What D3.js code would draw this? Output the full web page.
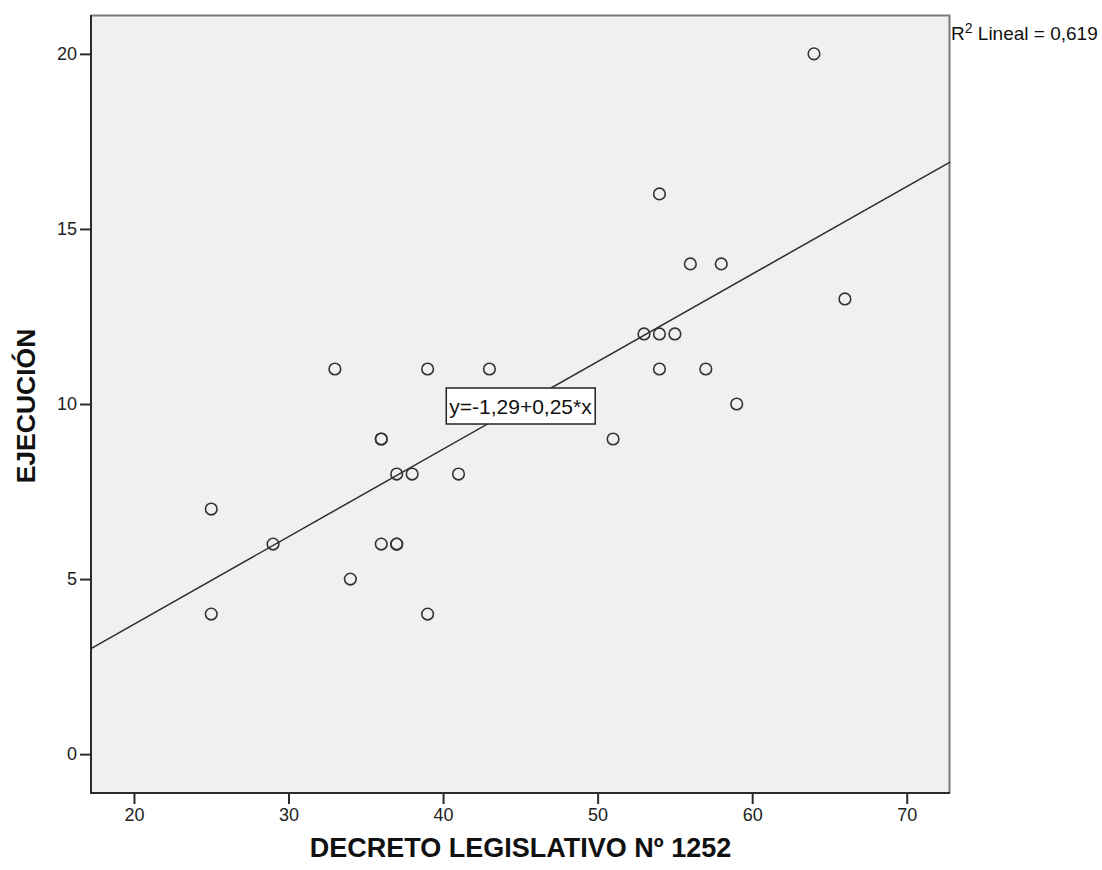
<!DOCTYPE html>
<html><head><meta charset="utf-8">
<script src="https://cdn.jsdelivr.net/npm/d3@7"></script>
<style>body{margin:0;background:#fff;} svg{display:block;font-family:"Liberation Sans",Arial,sans-serif;}</style>
</head><body><svg id="c" width="1102" height="870"></svg>
<script>
const decreto = [25,25,29,33,34,36,36,36,37,37,37,38,39,39,41,43,51,53,54,55,54,54,56,58,57,59,64,66];
const ejecucion = [7,4,6,11,5,9,9,6,8,6,6,8,11,4,8,11,9,12,12,12,16,11,14,14,11,10,20,13];
const xTicks = [20,30,40,50,60,70];
const yTicks = [0,5,10,15,20];
const fitIntercept = -1.29;
const fitSlope = 0.25;
const r2Label = "0,619";
const fitLabel = "y=-1,29+0,25*x";
const xTitle = "DECRETO LEGISLATIVO Nº 1252";
const yTitle = "EJECUCIÓN";

const svg = d3.select("#c");
const L=91, R=950, T=15, B=793;
const x = d3.scaleLinear().domain([17.22,72.8]).range([L,R]);
const y = d3.scaleLinear().domain([-1.11,21.11]).range([B,T]);

svg.append("rect").attr("x",L).attr("y",T).attr("width",R-L).attr("height",B-T).attr("fill","#f0f0f0");
svg.append("path").attr("d",`M${L},${T+0.5}H${R-0.5}V${B}`).attr("fill","none").attr("stroke","#7a7a7a").attr("stroke-width",2);

const xd = x.domain();
const line = d3.line().x(d=>x(d)).y(d=>y(fitIntercept+fitSlope*d));
svg.append("path").datum(xd).attr("d",line).attr("stroke","#2b2b2b").attr("stroke-width",1.5).attr("fill","none");

svg.append("g").selectAll("circle").data(decreto.map((d,i)=>[d,ejecucion[i]])).join("circle")
  .attr("cx",d=>x(d[0])).attr("cy",d=>y(d[1])).attr("r",5.8)
  .attr("fill","none").attr("stroke","#333").attr("stroke-width",1.6);

const xa = svg.append("g").attr("transform",`translate(0,${B})`).call(d3.axisBottom(x).tickValues(xTicks).tickSize(11).tickPadding(4).tickSizeOuter(0));
const ya = svg.append("g").attr("transform",`translate(${L},0)`).call(d3.axisLeft(y).tickValues(yTicks).tickSize(11).tickPadding(3).tickSizeOuter(0));
[xa,ya].forEach(a=>{
  a.select(".domain").attr("stroke","#2b2b2b").attr("stroke-width",2);
  a.selectAll(".tick line").attr("stroke","#2b2b2b").attr("stroke-width",2);
  a.selectAll("text").attr("fill","#222").attr("font-size",18).attr("font-family","Liberation Sans, Arial, sans-serif");
});
xa.select(".domain").attr("d",`M${L-1},0H${R}`);
ya.select(".domain").attr("d",`M0,${T}V${B+1}`);

const cx = (L+R)/2, cy = 406;
const boxG = svg.append("g");
const boxR = boxG.append("rect");
const tb = boxG.append("text").attr("x",cx).attr("y",cy+7.5).attr("text-anchor","middle").attr("font-size",21).attr("fill","#111").text(fitLabel);
const bb = tb.node().getBBox();
boxR.attr("x",bb.x-3).attr("y",cy-18).attr("width",bb.width+6).attr("height",36)
  .attr("fill","#fff").attr("stroke","#222").attr("stroke-width",1.5);

const rt = svg.append("text").attr("x",R+1).attr("y",40).attr("font-size",19).attr("fill","#111");
rt.append("tspan").text("R");
rt.append("tspan").attr("font-size",14).attr("dy",-7).text("2");
rt.append("tspan").attr("dy",7).text(" Lineal = "+r2Label);

svg.append("text").attr("x",cx).attr("y",857).attr("text-anchor","middle").attr("font-size",27).attr("font-weight","bold").attr("fill","#111").text(xTitle);
svg.append("text").attr("transform",`translate(35,${(T+B)/2+2}) rotate(-90)`).attr("text-anchor","middle").attr("font-size",26.5).attr("font-weight","bold").attr("fill","#111").text(yTitle);
</script></body></html>
